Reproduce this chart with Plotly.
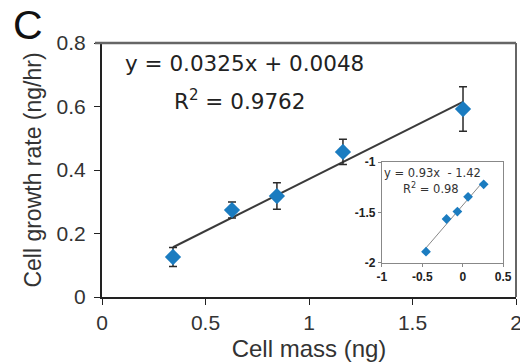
import numpy as np
import plotly.graph_objects as go

# Main data
cell_mass = [0.343, 0.628, 0.845, 1.164, 1.744]
growth_rate = [0.126, 0.274, 0.318, 0.457, 0.592]
growth_err = [0.03, 0.025, 0.042, 0.04, 0.07]

# Inset (log) data
inset_x = [-0.454, -0.20, -0.066, 0.066, 0.259]
inset_y = [-1.888, -1.564, -1.49, -1.344, -1.22]

main_xticks = [0, 0.5, 1, 1.5, 2]
main_yticks = [0, 0.2, 0.4, 0.6, 0.8]
inset_xticks = [-1, -0.5, 0, 0.5]
inset_xlabels = ["-1", "-0.5", "0", "0.5"]
inset_yticks = [-2, -1.5, -1]
inset_ylabels = ["-2", "-1.5", "-1"]

BLUE = "#1b7cc0"
FONT = "Arial, Liberation Sans, sans-serif"
WIDE = "DejaVu Sans, sans-serif"

# Fit lines
m, b = np.polyfit(cell_mass, growth_rate, 1)
fx = np.array([min(cell_mass), max(cell_mass)])
mi, bi = np.polyfit(inset_x, inset_y, 1)
fxi = np.array([min(inset_x) - 0.03, max(inset_x)])

fig = go.Figure()
fig.add_trace(go.Scatter(x=fx, y=m * fx + b, mode="lines",
                         line=dict(color="#3a3a3a", width=2), showlegend=False))
fig.add_trace(go.Scatter(x=cell_mass, y=growth_rate, mode="markers",
                         marker=dict(symbol="diamond", size=12.5, color=BLUE),
                         error_y=dict(type="data", array=growth_err, color="#2a2a2a",
                                      thickness=1.5, width=4),
                         showlegend=False))
fig.add_trace(go.Scatter(x=fxi, y=mi * fxi + bi, mode="lines", xaxis="x2", yaxis="y2",
                         line=dict(color="#888888", width=1), showlegend=False))
fig.add_trace(go.Scatter(x=inset_x, y=inset_y, mode="markers", xaxis="x2", yaxis="y2",
                         marker=dict(symbol="diamond", size=7.5, color=BLUE),
                         showlegend=False))

inset_tickfont = dict(size=12, color="#222222", family=FONT, weight="bold")

fig.update_layout(
    width=520, height=363,
    margin=dict(l=102, r=4, t=43, b=66),
    plot_bgcolor="white", paper_bgcolor="white",
    font=dict(family=FONT, color="#222222"),
    xaxis=dict(range=[0, 2], tickvals=main_xticks, showgrid=False, zeroline=False,
               automargin=False, ticklabeloverflow="allow",
               showline=True, linecolor="#222222", linewidth=2,
               ticks="outside", ticklen=6, tickcolor="#222222",
               tickfont=dict(size=21, color="#333333"),
               title=dict(text="Cell mass (ng)", font=dict(size=24, color="#333333"), standoff=7)),
    yaxis=dict(range=[0, 0.8], tickvals=main_yticks, showgrid=False, zeroline=False,
               automargin=False, ticklabelstandoff=4,
               showline=True, linecolor="#222222", linewidth=2,
               ticks="outside", ticklen=6, tickcolor="#222222",
               tickfont=dict(size=21, color="#333333"),
               title=dict(text="Cell growth rate (ng/hr)", font=dict(size=23, color="#333333"),
                          standoff=9)),
    xaxis2=dict(domain=[0.676, 0.969], anchor="y2", range=[-1, 0.5],
                tickvals=inset_xticks, ticktext=inset_xlabels, automargin=False,
                showgrid=False, zeroline=False, showline=True, mirror=True,
                linecolor="#888888", linewidth=1, ticks="outside", ticklen=3,
                tickcolor="#888888", tickfont=inset_tickfont),
    yaxis2=dict(domain=[0.134, 0.531], anchor="x2", range=[-2, -1],
                tickvals=inset_yticks, ticktext=inset_ylabels, automargin=False,
                showgrid=False, zeroline=False, showline=True, mirror=True,
                linecolor="#888888", linewidth=1, ticks="outside", ticklen=3,
                tickcolor="#888888", tickfont=inset_tickfont),
    shapes=[
        dict(type="line", xref="paper", yref="paper", x0=-0.017, x1=1, y0=1, y1=1,
             line=dict(color="#666666", width=2.5)),
        dict(type="line", xref="paper", yref="paper", x0=1, x1=1, y0=0, y1=1,
             line=dict(color="#666666", width=2)),
    ],
    annotations=[
        dict(text="y = 0.0325x + 0.0048", xref="paper", yref="paper", x=0.05, y=0.921,
             xanchor="left", yanchor="middle", showarrow=False,
             font=dict(size=21.5, color="#222222", family=WIDE)),
        dict(text="R<sup>2</sup> = 0.9762", xref="paper", yref="paper", x=0.168, y=0.776,
             xanchor="left", yanchor="middle", showarrow=False,
             font=dict(size=21.5, color="#222222", family=WIDE)),
        dict(text="y = 0.93x  - 1.42", xref="x2 domain", yref="y2 domain", x=0.0, y=0.89,
             xanchor="left", yanchor="middle", showarrow=False,
             font=dict(size=11.5, color="#333333", family=WIDE)),
        dict(text="R<sup>2</sup> = 0.98", xref="x2 domain", yref="y2 domain", x=0.16, y=0.74,
             xanchor="left", yanchor="middle", showarrow=False,
             font=dict(size=11.5, color="#333333", family=WIDE)),
        dict(text="C", xref="paper", yref="paper", x=-0.179, y=1.071,
             xanchor="center", yanchor="middle", showarrow=False,
             font=dict(size=41, color="#111111")),
    ],
)

fig.write_html("out.html", config={"displayModeBar": False},
               post_script="document.body.style.margin='0';")
